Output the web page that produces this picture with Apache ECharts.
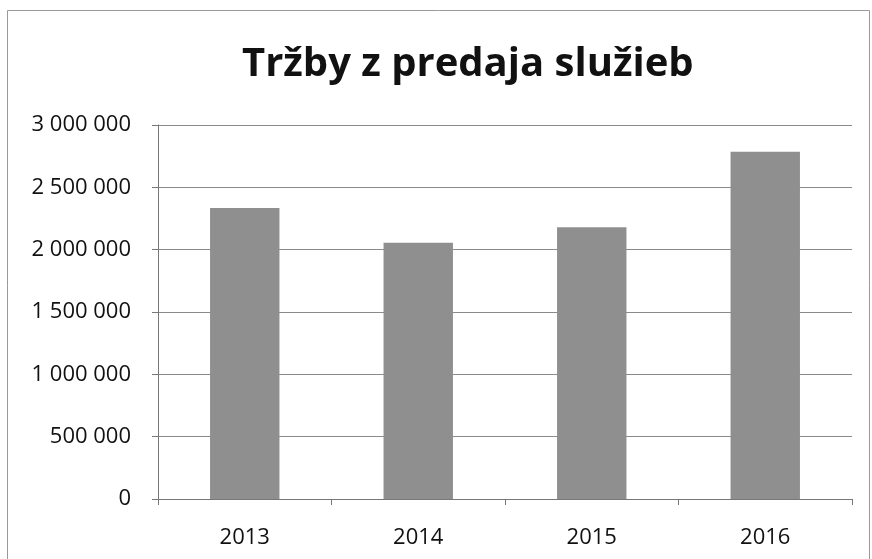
<!DOCTYPE html>
<html>
<head>
<meta charset="utf-8">
<script src="https://cdn.jsdelivr.net/npm/echarts@6/dist/echarts.min.js"></script>
<style>
  html, body { margin: 0; padding: 0; background: #fff; }
  #chart { width: 872px; height: 559px; }
</style>
</head>
<body>
<div id="chart"></div>
<script>
const years = ['2013', '2014', '2015', '2016']
const revenue = [2335000, 2055000, 2180000, 2785000]

const FONT = '"Open Sans", "Liberation Sans", sans-serif'

// 3000000 -> "3 000 000"
function spaced(v) {
  return String(v).replace(/\B(?=(\d{3})+(?!\d))/g, ' ')
}

const chart = echarts.init(document.getElementById('chart'))
chart.setOption({
  animation: false,
  backgroundColor: '#fff',
  title: {
    text: 'Tržby z predaja služieb',
    left: 237,
    top: 40,
    textStyle: { fontFamily: FONT, fontSize: 40, fontWeight: 'bold', color: '#111' }
  },
  grid: { left: 158, right: 20, top: 125, bottom: 60 },
  xAxis: {
    type: 'category',
    data: years,
    axisLine: { lineStyle: { color: '#777', width: 1 } },
    axisTick: { show: true, length: 6, lineStyle: { color: '#777' } },
    axisLabel: { fontFamily: FONT, fontSize: 22, color: '#111', margin: 28 }
  },
  yAxis: {
    type: 'value',
    min: 0,
    max: 3000000,
    interval: 500000,
    axisLine: { show: true, lineStyle: { color: '#777', width: 1 } },
    axisTick: { show: true, length: 6, lineStyle: { color: '#777' } },
    splitLine: { lineStyle: { color: '#8a8a8a', width: 1 } },
    axisLabel: { fontFamily: FONT, fontSize: 22, color: '#111', margin: 27, formatter: spaced }
  },
  series: [{
    type: 'bar',
    data: revenue,
    barWidth: '40%',
    itemStyle: { color: '#8f8f8f' }
  }],
  graphic: [{
    type: 'rect',
    shape: { x: 7.5, y: 10.5, width: 862, height: 560 },
    style: { fill: 'none', stroke: '#999', lineWidth: 1 },
    silent: true
  }]
})
</script>
</body>
</html>
